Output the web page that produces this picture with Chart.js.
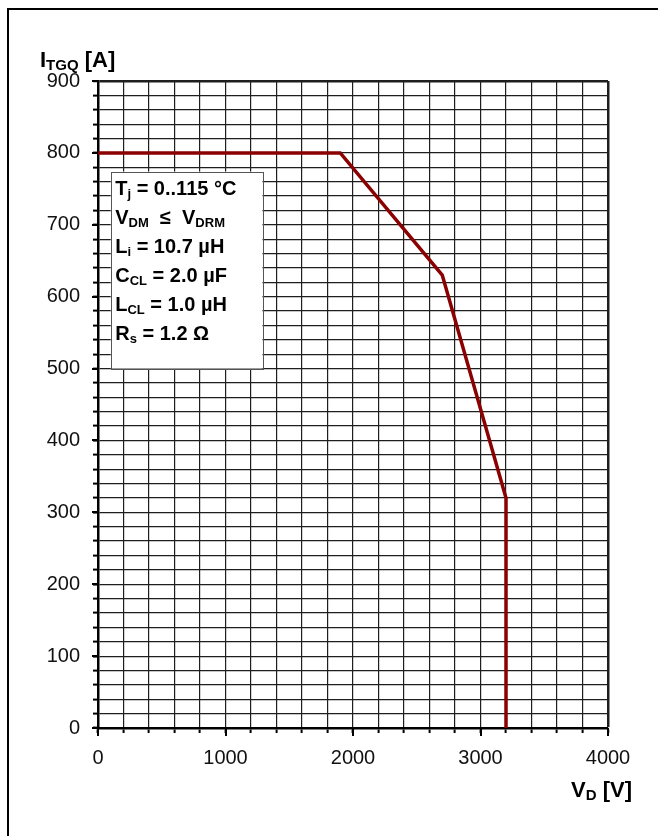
<!DOCTYPE html>
<html>
<head>
<meta charset="utf-8">
<script src="https://cdn.jsdelivr.net/npm/chart.js@4.4.1/dist/chart.umd.min.js"></script>
<style>
  html, body { margin: 0; padding: 0; background: #fff; }
  #wrap { position: relative; width: 658px; height: 836px; }
</style>
</head>
<body>
<div id="wrap"><canvas id="c" width="658" height="836"></canvas></div>
<script>
// Turn-off safe operating curve: V_D [V] vs I_TGQ [A]
const voltage = [0, 1900, 2700, 3200, 3200];
const current = [800, 800, 630, 320, 0];

// Labelled tick values
const xTickLabels = [0, 1000, 2000, 3000, 4000];
const yTickLabels = [0, 100, 200, 300, 400, 500, 600, 700, 800, 900];

// Test conditions, each line as [text, isSubscript] runs
const conditions = [
  [["T", 0], ["j", 1], [" = 0..115 °C", 0]],
  [["V", 0], ["DM", 1], ["  \u2264  V", 0], ["DRM", 1]],
  [["L", 0], ["i", 1], [" = 10.7 \u00B5H", 0]],
  [["C", 0], ["CL", 1], [" = 2.0 \u00B5F", 0]],
  [["L", 0], ["CL", 1], [" = 1.0 \u00B5H", 0]],
  [["R", 0], ["s", 1], [" = 1.2 \u03A9", 0]]
];

const FONT = '"Liberation Sans", Arial, sans-serif';

function drawRich(ctx, x, y, parts, size, subSize, subDrop) {
  let cx = x;
  for (const [t, sub] of parts) {
    ctx.font = `bold ${sub ? subSize : size}px ${FONT}`;
    ctx.fillText(t, cx, y + (sub ? subDrop : 0));
    cx += ctx.measureText(t).width;
  }
  return cx;
}
function richWidth(ctx, parts, size, subSize) {
  let w = 0;
  for (const [t, sub] of parts) {
    ctx.font = `bold ${sub ? subSize : size}px ${FONT}`;
    w += ctx.measureText(t).width;
  }
  return w;
}

const decorations = {
  id: 'decorations',
  beforeDraw(chart) {
    const ctx = chart.ctx;
    ctx.save();
    ctx.fillStyle = '#fff';
    ctx.fillRect(0, 0, chart.width, chart.height);
    ctx.strokeStyle = '#000';
    ctx.lineWidth = 2;
    ctx.strokeRect(8, 9, chart.width + 20, chart.height + 20);
    ctx.restore();
  },
  afterDraw(chart) {
    const ctx = chart.ctx;
    const xs = chart.scales.x, ys = chart.scales.y;
    const area = chart.chartArea;
    ctx.save();
    // longer ticks at the labelled values
    ctx.strokeStyle = '#000';
    ctx.lineWidth = 2;
    ctx.beginPath();
    for (const v of xTickLabels) {
      const px = Math.round(xs.getPixelForValue(v));
      ctx.moveTo(px, area.bottom);
      ctx.lineTo(px, area.bottom + 8);
    }
    for (const v of yTickLabels) {
      const py = Math.round(ys.getPixelForValue(v));
      ctx.moveTo(area.left - 6, py);
      ctx.lineTo(area.left, py);
    }
    ctx.stroke();

    // conditions box
    const bx0 = xs.getPixelForValue(100), bx1 = xs.getPixelForValue(1290);
    const by0 = ys.getPixelForValue(774), by1 = ys.getPixelForValue(500);
    ctx.fillStyle = '#fff';
    ctx.fillRect(bx0, by0, bx1 - bx0, by1 - by0);
    ctx.strokeStyle = '#555';
    ctx.lineWidth = 1;
    ctx.strokeRect(Math.round(bx0) + 0.5, Math.round(by0) + 0.5, Math.round(bx1 - bx0), Math.round(by1 - by0));
    ctx.fillStyle = '#000';
    ctx.textBaseline = 'alphabetic';
    ctx.textAlign = 'left';
    conditions.forEach((parts, i) => {
      drawRich(ctx, bx0 + 4.5, by0 + 23.5 + i * 29, parts, 20, 13, 3);
    });

    // axis titles
    const yTitle = [["I", 0], ["TGQ", 1], [" [A]", 0]];
    drawRich(ctx, area.left - 58, area.top - 14, yTitle, 22, 15, 3);
    const xTitle = [["V", 0], ["D", 1], [" [V]", 0]];
    const w = richWidth(ctx, xTitle, 22, 15);
    drawRich(ctx, area.right + 24 - w, area.bottom + 69, xTitle, 22, 15, 3);
    ctx.restore();
  }
};

const gridWidth = (edge) => (c) => (c.tick && c.tick.value === edge ? 2.5 : 1.2);

new Chart(document.getElementById('c'), {
  type: 'scatter',
  data: {
    datasets: [{
      data: voltage.map((v, i) => ({ x: v, y: current[i] })),
      showLine: true,
      borderColor: '#8b0000',
      backgroundColor: '#8b0000',
      borderWidth: 3.5,
      pointRadius: 0,
      tension: 0,
      fill: false
    }]
  },
  options: {
    responsive: false,
    animation: false,
    devicePixelRatio: 1,
    layout: { padding: { left: 0, top: 81, right: 50, bottom: 0 } },
    plugins: { legend: { display: false }, tooltip: { enabled: false } },
    scales: {
      x: {
        type: 'linear', min: 0, max: 4000,
        afterFit: (s) => { s.height = 108; },
        ticks: {
          stepSize: 200, autoSkip: false, maxRotation: 0, padding: 13, color: '#111',
          font: { family: FONT, size: 20 },
          callback: (v) => (xTickLabels.includes(v) ? String(v) : '')
        },
        grid: { color: '#1e1e1e', lineWidth: gridWidth(4000), tickLength: 5, tickWidth: 2, tickColor: '#000' },
        border: { color: '#000', width: 2.5 }
      },
      y: {
        type: 'linear', min: 0, max: 900,
        afterFit: (s) => { s.width = 98; },
        ticks: {
          stepSize: 20, autoSkip: false, padding: 13, color: '#111',
          font: { family: FONT, size: 20 },
          callback: (v) => (yTickLabels.includes(v) ? String(v) : '')
        },
        grid: { color: '#1e1e1e', lineWidth: gridWidth(900), tickLength: 5, tickWidth: 2, tickColor: '#000' },
        border: { color: '#000', width: 2.5 }
      }
    }
  },
  plugins: [decorations]
});
</script>
</body>
</html>
